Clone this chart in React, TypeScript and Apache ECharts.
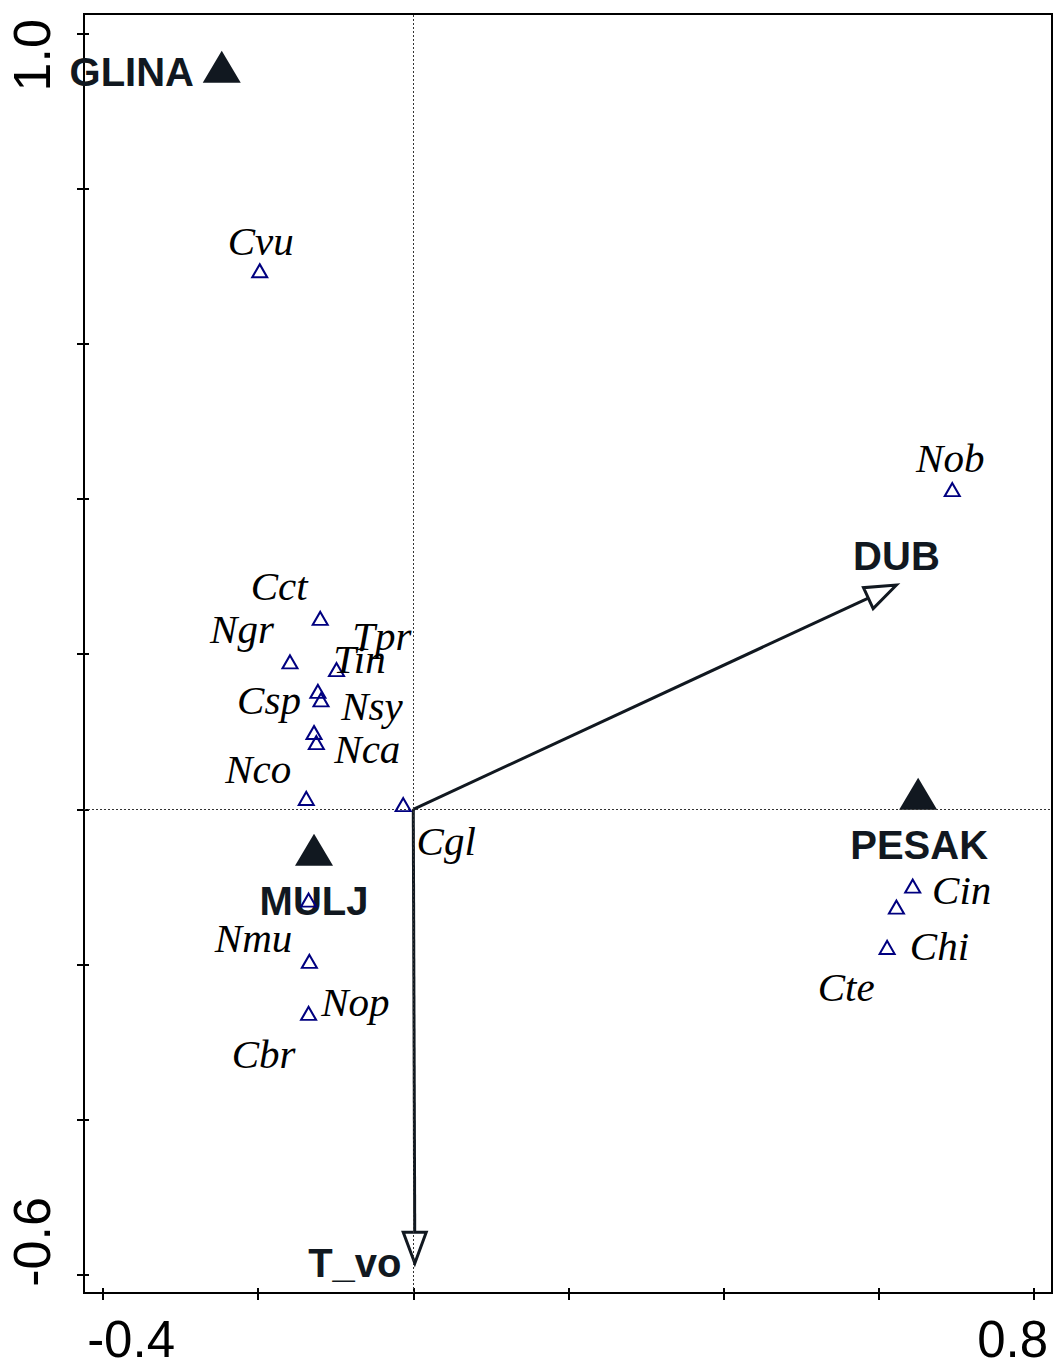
import React, { useEffect, useRef } from "react";
import * as echarts from "echarts";

// ---- data ----
const speciesNames = ["Cvu", "Nob", "Cct", "Ngr", "Tin", "Tpr", "Csp", "Nsy", "Nca", "Nco", "Cgl", "Nmu", "Nop", "Cbr", "Cin", "Chi", "Cte"];
const speciesX = [-0.198, 0.695, -0.120, -0.159, -0.099, -0.123, -0.119, -0.128, -0.125, -0.138, -0.013, -0.135, -0.134, -0.135, 0.644, 0.623, 0.611];
const speciesY = [0.694, 0.412, 0.246, 0.190, 0.180, 0.152, 0.141, 0.099, 0.086, 0.014, 0.006, -0.117, -0.196, -0.263, -0.099, -0.126, -0.178];

const nominalNames = ["GLINA", "MULJ", "PESAK"];
const nominalX = [-0.247, -0.128, 0.651];
const nominalY = [0.957, -0.052, 0.020];

const arrowNames = ["DUB", "T_vo"];
const arrowX = [0.623, 0.002];
const arrowY = [0.289, -0.585];

const xTicks = [-0.4, -0.2, 0, 0.2, 0.4, 0.6, 0.8];
const yTicks = [-0.6, -0.4, -0.2, 0, 0.2, 0.4, 0.6, 0.8, 1.0];
const xLabelValues = [-0.4, 0.8];
const xLabelTexts = ["-0.4", "0.8"];
const yLabelValues = [1.0, -0.6];
const yLabelTexts = ["1.0", "-0.6"];

// ---- label placement (styling, pixels relative to the point) ----
const speciesLabelOffsets: Record<string, [number, number]> = {
  Cvu: [1, -30], Nob: [-2, -32], Cct: [-41, -32], Ngr: [-48, -33], Tin: [23, -11],
  Tpr: [64, -55], Csp: [-52, 0], Nsy: [58, -26], Nca: [51, 6], Nco: [-48, -29],
  Cgl: [43, 36], Nmu: [-55, 38], Nop: [46, 41], Cbr: [-45, 41], Cin: [49, 4],
  Chi: [43, 39], Cte: [-41, 40],
};
const nominalLabelOffsets: Record<string, [number, number]> = {
  GLINA: [-90, 5], MULJ: [0, 51], PESAK: [1, 51],
};
const arrowLabelOffsets: Record<string, [number, number]> = {
  DUB: [0, -29], T_vo: [-60, 0],
};
const xLabelShift = [28, -21];
const yLabelShift = [22, -33];

const INK = "#111820";
const X_MIN = -0.4246, X_MAX = 0.8236, Y_MIN = -0.6233, Y_MAX = 1.0249;

export default function App() {
  const ref = useRef<HTMLDivElement>(null);
  useEffect(() => {
    if (!ref.current) return;
    const chart = echarts.init(ref.current, null, { renderer: "svg" });
    const option: any = {
      animation: false,
      backgroundColor: "#fff",
      grid: { left: 84, top: 14, right: 4, bottom: 74, show: true, borderColor: "#000", borderWidth: 2, backgroundColor: "transparent" },
      xAxis: {
        type: "value", min: X_MIN, max: X_MAX, offset: -5,
        axisLine: { show: false, onZero: false }, splitLine: { show: false },
        axisTick: { show: true, length: 12, customValues: xTicks, lineStyle: { color: "#000", width: 2 } },
        axisLabel: { show: false },
      },
      yAxis: {
        type: "value", min: Y_MIN, max: Y_MAX, offset: -5,
        axisLine: { show: false, onZero: false }, splitLine: { show: false },
        axisTick: { show: true, length: 12, customValues: yTicks, lineStyle: { color: "#000", width: 2 } },
        axisLabel: { show: false },
      },
      series: [
        {
          type: "line", data: [], z: 1, silent: true,
          markLine: {
            silent: true, symbol: ["none", "none"], label: { show: false },
            lineStyle: { type: [2, 2], width: 1, color: "#333" },
            data: [{ xAxis: 0 }, { yAxis: 0 }],
          },
        },
        {
          type: "custom", z: 3, silent: true,
          data: arrowX.map((x, i) => [x, arrowY[i]]),
          renderItem: (params: any, api: any) => {
            const o = api.coord([0, 0]);
            const t = api.coord([api.value(0), api.value(1)]);
            const dx = t[0] - o[0], dy = t[1] - o[1];
            const len = Math.hypot(dx, dy);
            const ux = dx / len, uy = dy / len;
            const hl = 31, hw = 11.5;
            const bx = t[0] - ux * hl, by = t[1] - uy * hl;
            const px = -uy, py = ux;
            const name = arrowNames[params.dataIndex];
            const off = arrowLabelOffsets[name];
            return {
              type: "group",
              children: [
                { type: "line", shape: { x1: o[0], y1: o[1], x2: bx, y2: by }, style: { stroke: INK, lineWidth: 3 } },
                {
                  type: "polygon",
                  shape: { points: [[t[0], t[1]], [bx + px * hw, by + py * hw], [bx - px * hw, by - py * hw]] },
                  style: { fill: "none", stroke: INK, lineWidth: 3, lineJoin: "miter" },
                },
                {
                  type: "text", x: t[0] + off[0], y: t[1] + off[1],
                  style: { text: name, fontSize: 40, lineHeight: 32, fontWeight: "bold", fontFamily: "Liberation Sans", fill: INK, align: "center", verticalAlign: "middle" },
                },
              ],
            };
          },
        },
        {
          type: "scatter", z: 4, silent: true,
          symbol: "triangle", symbolSize: [38, 32],
          itemStyle: { color: INK, opacity: 1 },
          label: {
            show: true, position: "inside", formatter: "{b}",
            fontSize: 40, lineHeight: 32, fontWeight: "bold", fontFamily: "Liberation Sans", color: INK,
            align: "center", verticalAlign: "middle", opacity: 1,
          },
          data: nominalNames.map((n, i) => ({ name: n, value: [nominalX[i], nominalY[i]], label: { offset: nominalLabelOffsets[n] } })),
        },
        {
          type: "scatter", z: 5, silent: true,
          symbol: "triangle", symbolSize: [15, 13],
          itemStyle: { color: "rgba(0,0,0,0)", borderColor: "#000080", borderWidth: 2, opacity: 1 },
          label: {
            show: true, position: "inside", formatter: "{b}",
            fontSize: 41, lineHeight: 30, fontStyle: "italic", fontFamily: "Liberation Serif", color: "#000",
            align: "center", verticalAlign: "middle", opacity: 1,
          },
          data: speciesNames.map((n, i) => ({ name: n, value: [speciesX[i], speciesY[i]], label: { offset: speciesLabelOffsets[n] } })),
        },
      ],
    };
    chart.setOption(option);

    const axisBottom = chart.convertToPixel({ yAxisIndex: 0 } as any, Y_MIN) as number;
    const axisLeft = chart.convertToPixel({ xAxisIndex: 0 } as any, X_MIN) as number;
    const graphics: any[] = [];
    xLabelValues.forEach((v, i) => {
      const px = chart.convertToPixel({ xAxisIndex: 0 } as any, v) as number;
      graphics.push({
        type: "text", x: px + xLabelShift[i], y: axisBottom + 46,
        style: { text: xLabelTexts[i], fontSize: 51, lineHeight: 38, fontFamily: "Liberation Sans", fill: "#000", align: "center", verticalAlign: "middle" },
      });
    });
    yLabelValues.forEach((v, i) => {
      const py = chart.convertToPixel({ yAxisIndex: 0 } as any, v) as number;
      graphics.push({
        type: "text", x: axisLeft - 52, y: py + yLabelShift[i], rotation: Math.PI / 2,
        style: { text: yLabelTexts[i], fontSize: 52, lineHeight: 40, fontFamily: "Liberation Sans", fill: "#000", align: "center", verticalAlign: "middle" },
      });
    });
    chart.setOption({ graphic: graphics });

    return () => chart.dispose();
  }, []);
  return <div ref={ref} style={{ position: "fixed", left: 0, top: 0, width: 1056, height: 1367 }} />;
}
